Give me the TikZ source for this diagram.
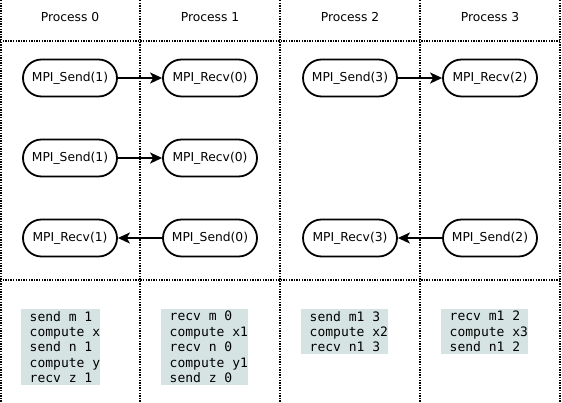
\documentclass[tikz,border=0pt]{standalone}
\usepackage{fontspec}
\setmainfont{DejaVu Sans}
\setmonofont{DejaVu Sans Mono}
\usetikzlibrary{shapes.misc,arrows.meta}
\definecolor{codebg}{RGB}{214,227,227}
\tikzset{
  sep/.style={line width=1.3pt, dash pattern=on 1.3pt off 1.3pt},
  call/.style={rounded rectangle, draw, line width=1.8pt, minimum width=98pt, minimum height=37pt, inner sep=2pt, font=\fontsize{12.3}{14}\selectfont},
  msg/.style={line width=1.8pt, -{Stealth[length=12pt,width=11pt,inset=3pt]}},
  head/.style={font=\fontsize{12.3}{14}\selectfont},
  code/.style={anchor=north west, fill=codebg, inner xsep=0pt, inner ysep=2pt, align=left, font=\ttfamily\fontsize{13}{15.4}\selectfont}
}
\begin{document}
\begin{tikzpicture}[x=1pt,y=-1pt]
\useasboundingbox (0,0) rectangle (562,402);
% grid
\foreach \x in {1,140,280,420,560} \draw[sep] (\x,0) -- (\x,402);
\draw[sep] (0,41) -- (562,41);
\draw[sep] (0,280) -- (562,280);
% headers
\node[head] (h0) at (70,17) {Process 0};
\node[head] (h1) at (210,17) {Process 1};
\node[head] (h2) at (350,17) {Process 2};
\node[head] (h3) at (490,17) {Process 3};
% row 1
\node[call] (a1) at (70,78) {MPI\_Send(1)};
\node[call] (b1) at (210,78) {MPI\_Recv(0)};
\node[call] (c1) at (350,78) {MPI\_Send(3)};
\node[call] (d1) at (490,78) {MPI\_Recv(2)};
% row 2
\node[call] (a2) at (70,158) {MPI\_Send(1)};
\node[call] (b2) at (210,158) {MPI\_Recv(0)};
% row 3
\node[call] (a3) at (70,238) {MPI\_Recv(1)};
\node[call] (b3) at (210,238) {MPI\_Send(0)};
\node[call] (c3) at (350,238) {MPI\_Recv(3)};
\node[call] (d3) at (490,238) {MPI\_Send(2)};
% messages
\draw[msg] (a1) -- (b1);
\draw[msg] (c1) -- (d1);
\draw[msg] (a2) -- (b2);
\draw[msg] (b3) -- (a3);
\draw[msg] (d3) -- (c3);
% code
\node[code] (k0) at (21,309) {\hspace*{8.5pt}send m 1\\\hspace*{8.5pt}compute x\hspace*{4.5pt}\\\hspace*{8.5pt}send n 1\\\hspace*{8.5pt}compute y\\\hspace*{8.5pt}recv z 1};
\node[code] (k1) at (161,309) {\hspace*{8.5pt}recv m 0\\\hspace*{8.5pt}compute x1\hspace*{4.5pt}\\\hspace*{8.5pt}recv n 0\\\hspace*{8.5pt}compute y1\\\hspace*{8.5pt}send z 0};
\node[code] (k2) at (301,309) {\hspace*{8.5pt}send m1 3\\\hspace*{8.5pt}compute x2\hspace*{4.5pt}\\\hspace*{8.5pt}recv n1 3};
\node[code] (k3) at (441,309) {\hspace*{8.5pt}recv m1 2\\\hspace*{8.5pt}compute x3\hspace*{4.5pt}\\\hspace*{8.5pt}send n1 2};
\end{tikzpicture}
\end{document}
